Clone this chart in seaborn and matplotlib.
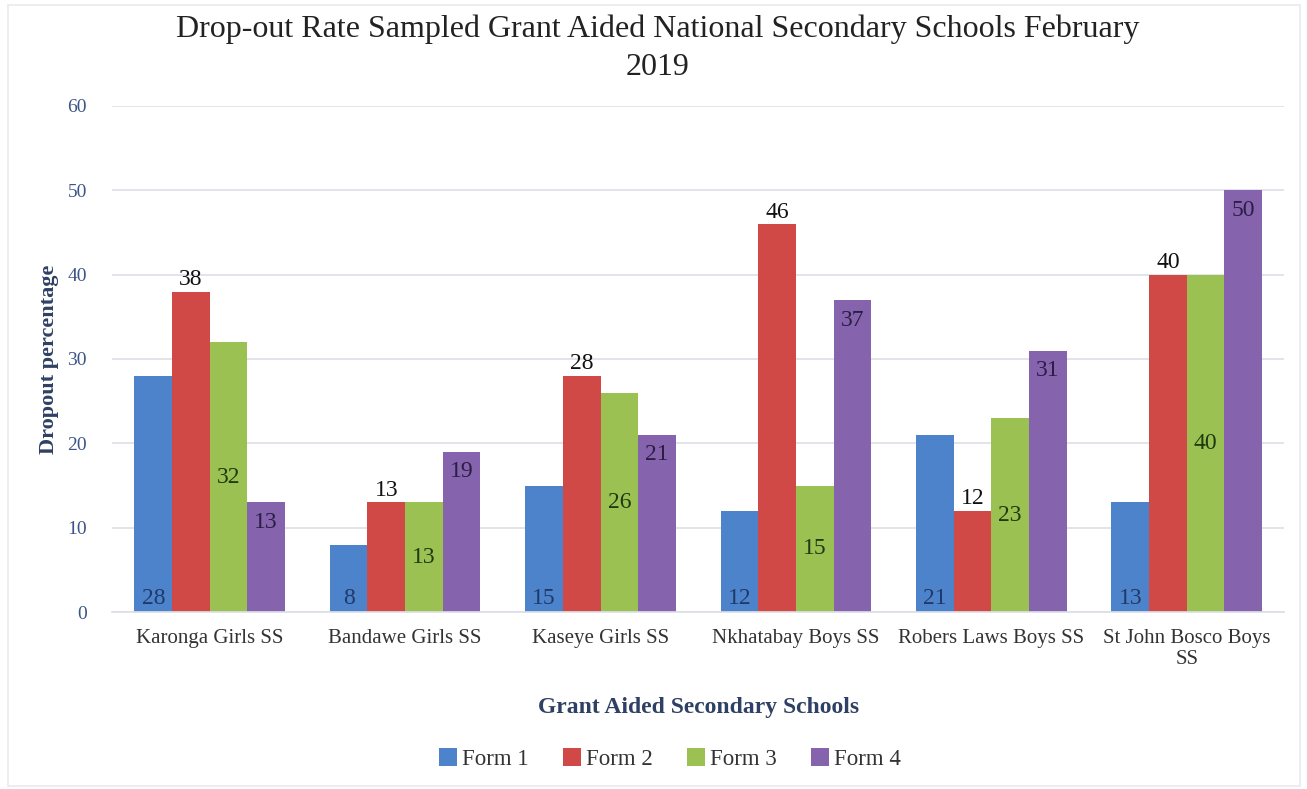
import matplotlib
matplotlib.use("Agg")
import matplotlib.pyplot as plt
import matplotlib.patches as mpatches
import seaborn as sns
import pandas as pd

schools = ["Karonga Girls SS", "Bandawe Girls SS", "Kaseye Girls SS",
           "Nkhatabay Boys SS", "Robers Laws Boys SS", "St John Bosco Boys\nSS"]
forms = ["Form 1", "Form 2", "Form 3", "Form 4"]
form1 = [28, 8, 15, 12, 21, 13]
form2 = [38, 13, 28, 46, 12, 40]
form3 = [32, 13, 26, 15, 23, 40]
form4 = [13, 19, 21, 37, 31, 50]
colors = ["#4D83CA", "#D04946", "#9CC153", "#8563AD"]
label_colors = ["#1F3A6A", "#111111", "#1E3A10", "#2A1E45"]

rows = []
for f, vals in zip(forms, [form1, form2, form3, form4]):
    for s, v in zip(schools, vals):
        rows.append({"School": s, "Form": f, "Value": v})
df = pd.DataFrame(rows)

sns.set_theme(style="white")
plt.rcParams["font.family"] = ["Liberation Serif", "DejaVu Serif"]

fig = plt.figure(figsize=(13.07, 7.89), dpi=100)
ax = fig.add_axes([0.0857, 0.2243, 0.897, 0.6414])

sns.barplot(data=df, x="School", y="Value", hue="Form", palette=colors,
            width=0.77, saturation=1, ax=ax, legend=True, linewidth=0)

ax.set_ylim(0, 60)
ax.set_yticks(range(0, 61, 10))
ax.set_xlim(-0.5, 5.5)
ax.yaxis.grid(True, color="#DCDFE6", linewidth=1.2)
ax.set_axisbelow(True)
for sp in ["top", "right", "left"]:
    ax.spines[sp].set_visible(False)
ax.spines["bottom"].set_color("#DCDFE6")
ax.tick_params(axis="y", colors="#3B5588", labelsize=14, length=0, pad=18)
ax.tick_params(axis="x", colors="#333333", labelsize=15, length=0, pad=12)
for t in ax.get_yticklabels():
    t.set_color("#3B5588")

ax.set_xlabel("Grant Aided Secondary Schools", fontsize=17, fontweight="bold",
              color="#2E4064", labelpad=20)
ax.set_ylabel("Dropout percentage", fontsize=16, fontweight="bold",
              color="#2E4064", labelpad=6)

fig.suptitle("Drop-out Rate Sampled Grant Aided National Secondary Schools February\n2019",
             fontsize=23, color="#222222", y=0.982, x=0.503, linespacing=1.4)

conts = ax.containers
# Form 1: inside base
for p in conts[0]:
    x = p.get_x() + p.get_width() / 2
    ax.text(x, 0.3, f"{int(p.get_height())}", ha="center", va="bottom",
            fontsize=17, color=label_colors[0])
# Form 2: outside end
ax.bar_label(conts[1], fmt="%d", label_type="edge", padding=1, fontsize=17,
             color=label_colors[1])
# Form 3: center
ax.bar_label(conts[2], fmt="%d", label_type="center", fontsize=17,
             color=label_colors[2])
# Form 4: inside end
ax.bar_label(conts[3], fmt="%d", label_type="edge", padding=-22, fontsize=17,
             color=label_colors[3])

leg = ax.legend(loc="upper center", bbox_to_anchor=(0.476, -0.228), ncol=4,
                frameon=False, fontsize=16.5, handlelength=0.8, handleheight=0.8,
                handletextpad=0.2, columnspacing=1.5)
for t in leg.get_texts():
    t.set_color("#333333")

fig.patches.append(mpatches.Rectangle((0.006, 0.004), 0.989, 0.99,
                                      transform=fig.transFigure, fill=False,
                                      edgecolor="#E8EAEE", linewidth=1.2))

fig.savefig("out.png", dpi=100)
